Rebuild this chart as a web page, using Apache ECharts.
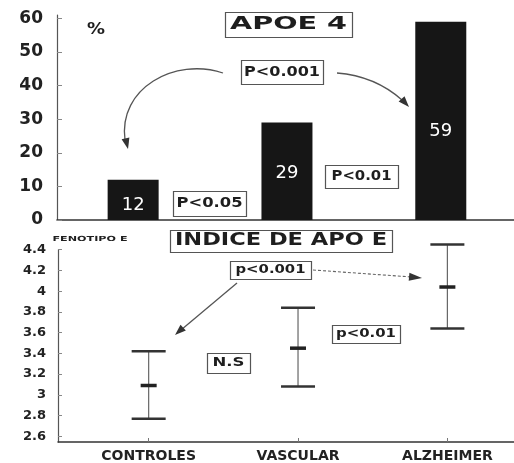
<!DOCTYPE html>
<html><head><meta charset="utf-8">
<script src="https://cdn.jsdelivr.net/npm/echarts@6.0.0/dist/echarts.min.js"></script>
<style>html,body{margin:0;padding:0;background:#fff}#c{width:514px;height:463px}</style>
</head><body><div id="c"></div>
<script>
// ---- data ----
const categories = ['CONTROLES', 'VASCULAR', 'ALZHEIMER'];
const apoe4Pct = [12, 29, 59];
const indexLow = [2.77, 3.08, 3.64];
const indexMean = [3.09, 3.45, 4.04];
const indexHigh = [3.42, 3.84, 4.45];
const pctTicks = [0, 10, 20, 30, 40, 50, 60];
const indexTicks = [2.6, 2.8, 3, 3.2, 3.4, 3.6, 3.8, 4, 4.2, 4.4];

// ---- helpers ----
const FF = '"DejaVu Sans", "Liberation Sans", sans-serif';
const mctx = document.createElement('canvas').getContext('2d');
function fitText(text, font, cx, cy, targetW) {
  mctx.font = font;
  const w = mctx.measureText(text).width;
  return { type: 'text', x: cx, y: cy, scaleX: targetW / w, z: 102,
    style: { text: text, font: font, fill: '#1e1e1e', align: 'center', verticalAlign: 'middle' } };
}
function box(x, y, w, h) {
  return { type: 'rect', z: 101, shape: { x: x + 0.5, y: y + 0.5, width: w, height: h },
    style: { fill: '#fff', stroke: '#555', lineWidth: 1.2 } };
}
function arrowHead(fx, fy, tx, ty, len, half) {
  const dx = tx - fx, dy = ty - fy, d = Math.hypot(dx, dy);
  const ux = dx / d, uy = dy / d, bx = tx - ux * len, by = ty - uy * len;
  return { type: 'polygon', z: 101, shape: { points: [[tx, ty], [bx - uy * half, by + ux * half], [bx + uy * half, by - ux * half]] },
    style: { fill: '#333' } };
}
const lineStyle = { stroke: '#555', lineWidth: 1.3, fill: null };

const graphics = [
  box(225, 12, 127, 25), fitText('APOE 4', 'bold 17px ' + FF, 288.5, 25, 117),
  box(241, 60, 82, 24), fitText('P<0.001', 'bold 14px ' + FF, 282, 72, 76),
  box(173, 191, 73, 25), fitText('P<0.05', 'bold 14px ' + FF, 209.5, 203.5, 66),
  box(325, 165, 73, 23), fitText('P<0.01', 'bold 14px ' + FF, 361.5, 176.5, 60),
  fitText('%', 'bold 16px ' + FF, 96, 30, 18),
  box(170, 230, 222, 22), fitText('INDICE DE APO E', 'bold 17px ' + FF, 281, 241, 212),
  box(230, 261, 81, 18), fitText('p<0.001', 'bold 13px ' + FF, 270.5, 270, 70),
  box(207, 353, 43, 20), fitText('N.S', 'bold 12px ' + FF, 228.5, 363, 32),
  box(332, 325, 68, 18), fitText('p<0.01', 'bold 13px ' + FF, 366, 334, 60),
  fitText('FENOTIPO E', 'bold 7px ' + FF, 90, 239, 75),
  // arrows
  { type: 'bezierCurve', z: 100, shape: { x1: 223, y1: 73, cpx1: 175, cpy1: 57, cpx2: 118, cpy2: 88, x2: 125, y2: 140 }, style: lineStyle },
  arrowHead(124.5, 134, 128, 149, 11, 4),
  { type: 'bezierCurve', z: 100, shape: { x1: 337, y1: 73, cpx1: 375, cpy1: 76, x2: 402, y2: 100 }, style: lineStyle },
  arrowHead(398, 95, 409, 107, 11, 4),
  { type: 'line', z: 100, shape: { x1: 237, y1: 283, x2: 181, y2: 330 }, style: lineStyle },
  arrowHead(185, 326, 175, 335, 11, 4),
  { type: 'line', z: 100, shape: { x1: 313, y1: 270, x2: 412, y2: 277 }, style: { stroke: '#666', lineWidth: 1.1, lineDash: [3, 2] } },
  arrowHead(405, 276.5, 422, 278, 13, 4)
];

const labelOffsets = [[0, 5], [0, 2], [0, 10]];

const chart = echarts.init(document.getElementById('c'), null, { renderer: 'canvas' });
chart.setOption({
  animation: false,
  backgroundColor: '#fff',
  grid: [
    { left: 57, top: 15, width: 459, height: 205 },
    { left: 58, top: 249.7, width: 458, height: 194.3 }
  ],
  xAxis: [
    { type: 'value', gridIndex: 0, min: -0.495, max: 2.476,
      axisLine: { show: true, lineStyle: { color: '#333', width: 1.5 } },
      axisTick: { show: false }, axisLabel: { show: false }, splitLine: { show: false } },
    { type: 'value', gridIndex: 1, min: -0.607, max: 2.446,
      axisLine: { show: true, onZero: false, lineStyle: { color: '#333', width: 1.5 } },
      axisTick: { show: true, inside: true, length: 4, customValues: [0, 1, 2], lineStyle: { color: '#777' } },
      axisLabel: { show: true, customValues: [0, 1, 2], margin: 7, formatter: v => categories[Math.round(v)],
        fontFamily: FF, fontWeight: 'bold', fontSize: 14, color: '#222' },
      splitLine: { show: false } }
  ],
  yAxis: [
    { type: 'value', gridIndex: 0, min: 0, max: 61,
      axisLine: { show: true, onZero: false, lineStyle: { color: '#555', width: 1.2 } },
      axisTick: { show: true, inside: true, length: 5, customValues: pctTicks, lineStyle: { color: '#888' } },
      axisLabel: { customValues: pctTicks, margin: 14, padding: [0, 0, 8, 0],
        fontFamily: FF, fontWeight: 'bold', fontSize: 17, color: '#222' },
      splitLine: { show: false } },
    { type: 'value', gridIndex: 1, min: 2.545, max: 4.4,
      axisLine: { show: true, onZero: false, lineStyle: { color: '#555', width: 1.2 } },
      axisTick: { show: true, inside: true, length: 4, customValues: indexTicks, lineStyle: { color: '#888' } },
      axisLabel: { customValues: indexTicks, margin: 12, padding: [0, 0, 6, 0],
        formatter: v => String(+(+v).toFixed(1)),
        fontFamily: FF, fontWeight: 'bold', fontSize: 13, color: '#222' },
      splitLine: { show: false } }
  ],
  series: [
    { type: 'bar', xAxisIndex: 0, yAxisIndex: 0, barWidth: 51,
      itemStyle: { color: '#161616' },
      data: apoe4Pct.map((v, i) => ({ value: [i, v], label: { offset: labelOffsets[i] } })),
      label: { show: true, position: 'inside', color: '#fff', fontFamily: FF, fontSize: 18,
        formatter: p => String(p.value[1]) } },
    { type: 'custom', xAxisIndex: 1, yAxisIndex: 1, clip: false,
      data: categories.map((c, i) => [i, indexLow[i], indexMean[i], indexHigh[i]]),
      renderItem: function (params, api) {
        const x = api.value(0);
        const lo = api.coord([x, api.value(1)]);
        const me = api.coord([x, api.value(2)]);
        const hi = api.coord([x, api.value(3)]);
        const cx = lo[0];
        return { type: 'group', children: [
          { type: 'line', shape: { x1: cx, y1: hi[1], x2: cx, y2: lo[1] }, style: { stroke: '#666', lineWidth: 1.2 } },
          { type: 'line', shape: { x1: cx - 17, y1: hi[1], x2: cx + 17, y2: hi[1] }, style: { stroke: '#333', lineWidth: 2.5 } },
          { type: 'line', shape: { x1: cx - 17, y1: lo[1], x2: cx + 17, y2: lo[1] }, style: { stroke: '#333', lineWidth: 2.5 } },
          { type: 'line', shape: { x1: cx - 8, y1: me[1], x2: cx + 8, y2: me[1] }, style: { stroke: '#222', lineWidth: 3.5 } }
        ] };
      } }
  ],
  graphic: graphics
});
</script>
</body></html>
